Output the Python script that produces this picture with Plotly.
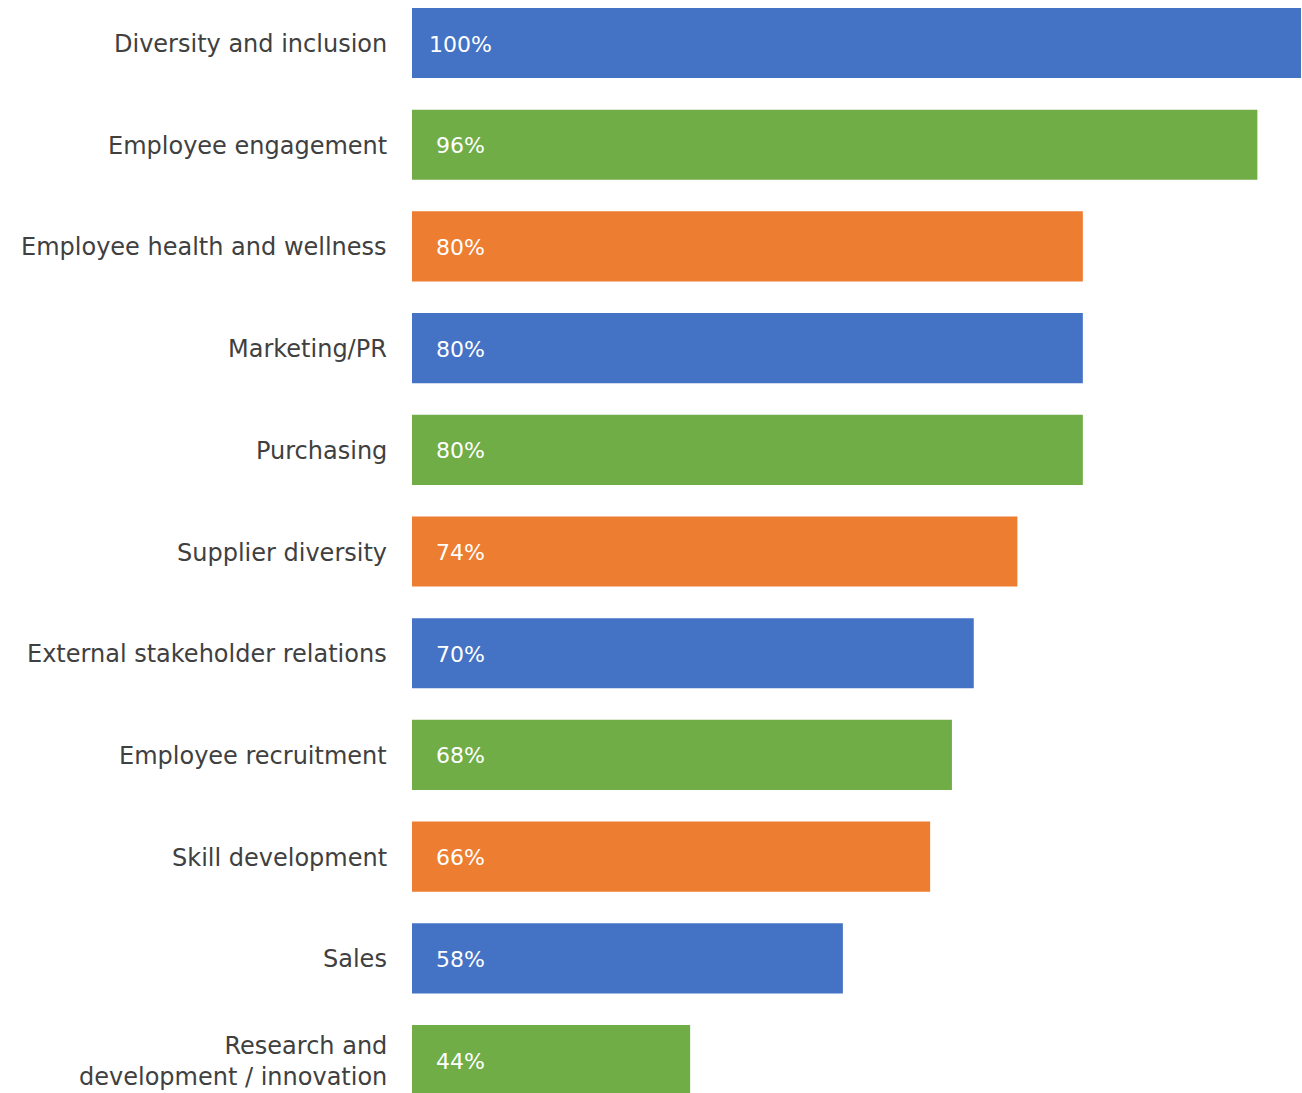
import plotly.graph_objects as go

# Share of respondents citing each business area
categories = [
    "Diversity and inclusion",
    "Employee engagement",
    "Employee health and wellness",
    "Marketing/PR",
    "Purchasing",
    "Supplier diversity",
    "External stakeholder relations",
    "Employee recruitment",
    "Skill development",
    "Sales",
    "Research and<br>development / innovation",
]
values = [100, 96, 80, 80, 80, 74, 70, 68, 66, 58, 44]

BLUE, GREEN, ORANGE = "#4472C4", "#70AD47", "#ED7D31"
palette = [BLUE, GREEN, ORANGE]
colors = [palette[i % 3] for i in range(len(values))]

FONT = "DejaVu Sans"
LABEL_COLOR = "#404040"

fig = go.Figure(
    go.Bar(
        x=values,
        y=categories,
        orientation="h",
        marker=dict(color=colors, line=dict(width=0)),
        hoverinfo="skip",
    )
)

for cat, v in zip(categories, values):
    # Value label, centred near the start of each bar
    fig.add_annotation(
        x=0.054, xref="paper",
        y=cat, yref="y",
        text=f"{v}%",
        showarrow=False,
        xanchor="center",
        yshift=-1,
        font=dict(family=FONT, size=22, color="white"),
    )
    # Category label, right-aligned to the left of the bars
    fig.add_annotation(
        x=-0.026, xref="paper",
        y=cat, yref="y",
        text=cat,
        showarrow=False,
        xanchor="right",
        align="right",
        yshift=-1,
        font=dict(family=FONT, size=24, color=LABEL_COLOR),
    )

fig.update_layout(
    width=1302,
    height=1093,
    margin=dict(l=412, r=1, t=0, b=0),
    paper_bgcolor="white",
    plot_bgcolor="white",
    bargap=0.31,
    showlegend=False,
    font=dict(family=FONT, size=24, color=LABEL_COLOR),
    xaxis=dict(
        range=[18.5, 100],
        visible=False,
        showgrid=False,
        zeroline=False,
    ),
    yaxis=dict(
        type="category",
        range=[10.324, -0.423],
        showgrid=False,
        zeroline=False,
        showline=False,
        ticks="",
        showticklabels=False,
    ),
)

fig.write_html("out.html")
